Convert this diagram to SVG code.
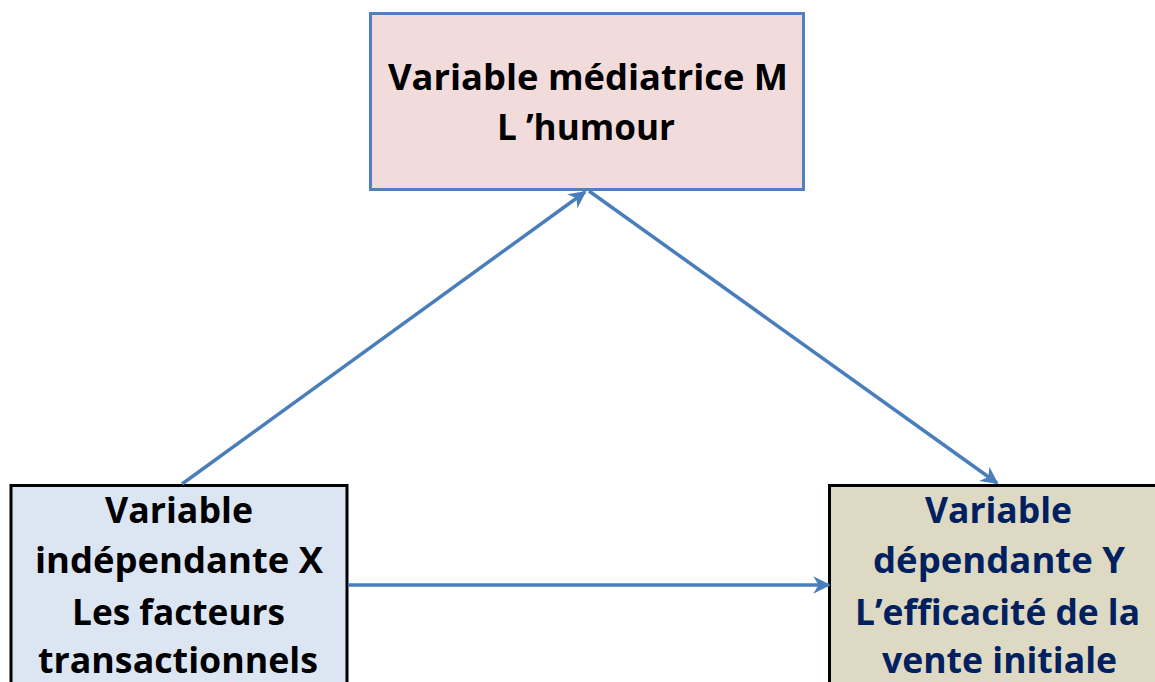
<svg xmlns="http://www.w3.org/2000/svg" width="1155" height="682" viewBox="0 0 1155 682">
<style>
text{font-family:"Open Sans","Liberation Sans",sans-serif;font-weight:700;font-size:35px;text-anchor:middle}
.k{fill:#000}
.n{fill:#002060}
.c{stroke:#4a7ebb;stroke-width:3.5;fill:none}
</style>
<defs>
<marker id="ah" viewBox="0 0 10 10" refX="9" refY="5" markerWidth="5" markerHeight="5" orient="auto" markerUnits="strokeWidth">
<path d="M0,0 L10,5 L0,10 L3,5 Z" fill="#4a7ebb"/>
</marker>
</defs>
<rect width="1155" height="682" fill="#fff"/>
<g id="node-m">
<rect x="370.5" y="13.5" width="433" height="176" fill="#f2dcdb" stroke="#4f81bd" stroke-width="3"/>
<text class="k" x="588" y="90" textLength="400" lengthAdjust="spacingAndGlyphs">Variable médiatrice M</text>
<text class="k" x="586" y="140" textLength="178" lengthAdjust="spacingAndGlyphs">L ’humour</text>
</g>
<g id="node-x">
<rect x="11" y="485.5" width="336" height="220" fill="#dce6f2" stroke="#000" stroke-width="3"/>
<text class="k" x="179" y="523" textLength="148" lengthAdjust="spacingAndGlyphs">Variable</text>
<text class="k" x="179" y="573" textLength="288" lengthAdjust="spacingAndGlyphs">indépendante X</text>
<text class="k" x="178.5" y="625" textLength="213" lengthAdjust="spacingAndGlyphs">Les facteurs</text>
<text class="k" x="178" y="673" textLength="280" lengthAdjust="spacingAndGlyphs">transactionnels</text>
</g>
<g id="node-y">
<rect x="829.5" y="485.5" width="340" height="220" fill="#ddd9c3" stroke="#000" stroke-width="3"/>
<text class="n" x="998.5" y="523" textLength="147" lengthAdjust="spacingAndGlyphs">Variable</text>
<text class="n" x="999" y="573" textLength="252" lengthAdjust="spacingAndGlyphs">dépendante Y</text>
<text class="n" x="997.5" y="625" textLength="285" lengthAdjust="spacingAndGlyphs">L’efficacité de la</text>
<text class="n" x="999.5" y="673" textLength="235" lengthAdjust="spacingAndGlyphs">vente initiale</text>
</g>
<g id="connectors">
<line class="c" x1="182" y1="484" x2="585" y2="192" marker-end="url(#ah)"/>
<line class="c" x1="589" y1="191" x2="997" y2="483" marker-end="url(#ah)"/>
<line class="c" x1="348" y1="585" x2="829" y2="585" marker-end="url(#ah)"/>
</g>
</svg>
